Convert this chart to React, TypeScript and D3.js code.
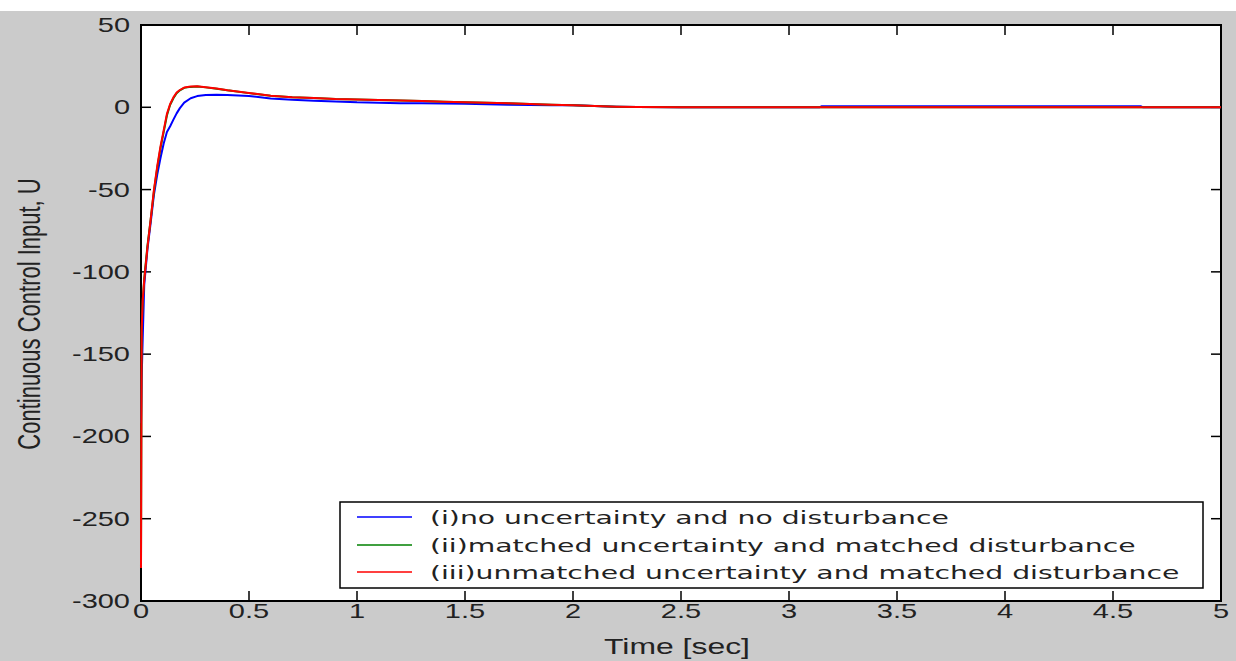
import React from 'react';
import * as d3 from 'd3';

// time samples [sec]
const timeA = [0, 0.003, 0.008, 0.015, 0.03, 0.045, 0.06, 0.075, 0.09, 0.105, 0.12, 0.135, 0.15, 0.165, 0.18, 0.2, 0.23, 0.26, 0.3, 0.35, 0.4, 0.5, 0.6, 0.7, 0.8, 0.9, 1.0, 1.1, 1.2, 1.3, 1.4, 1.5, 1.6, 1.7, 1.8, 1.9, 2.0, 2.1, 2.2, 2.3, 2.5, 3.0, 3.14, 3.15, 4.63, 4.64, 5.0];

// (i) no uncertainty and no disturbance
const seriesBlue = [-192, -165, -140, -108, -86, -70, -53, -41, -31, -22, -15, -11.5, -7.5, -3.7, -0.5, 2.8, 5.5, 6.8, 7.5, 7.6, 7.4, 6.9, 5.4, 4.6, 4.0, 3.5, 3.0, 2.8, 2.5, 2.4, 2.3, 2.2, 1.8, 1.5, 1.4, 1.3, 1.2, 0.8, 0.4, 0.2, 0, 0, 0, 0.6, 0.6, 0, 0];
// (ii) matched uncertainty and matched disturbance
const seriesGreen = [-279, -136, -118, -104, -84, -68, -51, -37, -25, -15, -5, 1.5, 5.5, 8.5, 10.3, 11.8, 12.4, 12.6, 12.1, 11.3, 10.3, 8.6, 7.0, 6.1, 5.6, 5.0, 4.7, 4.4, 4.1, 3.8, 3.4, 3.0, 2.7, 2.4, 2.0, 1.6, 1.2, 0.8, 0.4, 0.2, 0, 0, 0, 0, 0, 0, 0];
// (iii) unmatched uncertainty and matched disturbance
const seriesRed = [-280, -135, -117, -105, -85, -68, -50, -36, -24, -14, -4, 2, 6, 9, 10.5, 12, 12.6, 12.8, 12.2, 11.4, 10.4, 8.7, 7.0, 6.1, 5.6, 5.0, 4.7, 4.4, 4.1, 3.8, 3.4, 3.0, 2.7, 2.4, 2.0, 1.6, 1.2, 0.8, 0.4, 0.2, 0, 0, 0, 0, 0, 0, 0];

const seriesNames = [
  '(i)no uncertainty and no disturbance',
  '(ii)matched uncertainty and matched disturbance',
  '(iii)unmatched uncertainty and matched disturbance',
];
const seriesColors = ['#0000ff', '#008000', '#ff0000'];

const xTicks = [0, 0.5, 1, 1.5, 2, 2.5, 3, 3.5, 4, 4.5, 5];
const yTicks = [50, 0, -50, -100, -150, -200, -250, -300];

export default function App() {
  const width = 1236;
  const height = 661;
  const left = 141, right = 1221, top = 25, bottom = 601;
  const sx = 1.45; // horizontal stretch of the text glyphs

  const x = d3.scaleLinear().domain([0, 5]).range([left, right]);
  const y = d3.scaleLinear().domain([-300, 50]).range([bottom, top]);

  const line = d3.line<[number, number]>()
    .x(d => x(d[0]))
    .y(d => y(d[1]));

  const all = [seriesBlue, seriesGreen, seriesRed];
  const tickLen = 10;
  const tickFont = "'Liberation Sans', Arial, sans-serif";

  const legX = 340, legY = 502, legW = 863, legH = 86;
  const rowY = [517, 545, 572];

  return (
    <svg width={width} height={height} style={{ position: 'absolute', left: 0, top: 0 }}>
      <rect x={0} y={0} width={width} height={height} fill="#cbcbcb" />
      <rect x={0} y={0} width={width} height={11} fill="#ffffff" />
      <rect x={left} y={top} width={right - left} height={bottom - top} fill="#ffffff" />

      {/* axes box */}
      <rect x={left} y={top} width={right - left} height={bottom - top}
        fill="none" stroke="#000" strokeWidth={2} />

      {xTicks.map(t => (
        <g key={'x' + t}>
          <line x1={x(t)} x2={x(t)} y1={bottom} y2={bottom - tickLen} stroke="#000" strokeWidth={1.5} />
          <line x1={x(t)} x2={x(t)} y1={top} y2={top + tickLen} stroke="#000" strokeWidth={1.5} />
          <text transform={`translate(${x(t)},618) scale(${sx},1)`} textAnchor="middle"
            fontFamily={tickFont} fontSize={20} fill="#222">{String(t)}</text>
        </g>
      ))}

      {yTicks.map(v => (
        <g key={'y' + v}>
          <line x1={left} x2={left + tickLen} y1={y(v)} y2={y(v)} stroke="#000" strokeWidth={1.5} />
          <line x1={right} x2={right - tickLen} y1={y(v)} y2={y(v)} stroke="#000" strokeWidth={1.5} />
          <text transform={`translate(130,${y(v) + 7}) scale(${sx},1)`} textAnchor="end"
            fontFamily={tickFont} fontSize={20} fill="#222">{String(v)}</text>
        </g>
      ))}

      <clipPath id="plotClip">
        <rect x={left - 2} y={top} width={right - left + 2} height={bottom - top} />
      </clipPath>

      <g clipPath="url(#plotClip)">
        {all.map((s, i) => (
          <path key={i}
            d={line(timeA.map((t, k) => [t, s[k]] as [number, number])) || ''}
            fill="none" stroke={seriesColors[i]} strokeWidth={2} strokeLinejoin="round" />
        ))}
      </g>

      <text transform={`translate(${(left + right) / 2 - 4},654) scale(${sx},1)`} textAnchor="middle"
        fontFamily={tickFont} fontSize={22} fill="#222">Time [sec]</text>

      <text transform={`translate(40,314) scale(${sx},1) rotate(-90)`} textAnchor="middle"
        fontFamily={tickFont} fontSize={22} fill="#222">Continuous Control Input, U</text>

      {/* legend */}
      <rect x={legX} y={legY} width={legW} height={legH} fill="#ffffff" stroke="#000" strokeWidth={1.5} />
      {seriesNames.map((name, i) => (
        <g key={name}>
          <line x1={357} x2={412} y1={rowY[i]} y2={rowY[i]} stroke={seriesColors[i]} strokeWidth={1.5} />
          <text transform={`translate(430,${rowY[i] + 7}) scale(1.57,1)`}
            fontFamily="'DejaVu Sans', Verdana, sans-serif" fontSize={18} fill="#222">{name}</text>
        </g>
      ))}
    </svg>
  );
}
